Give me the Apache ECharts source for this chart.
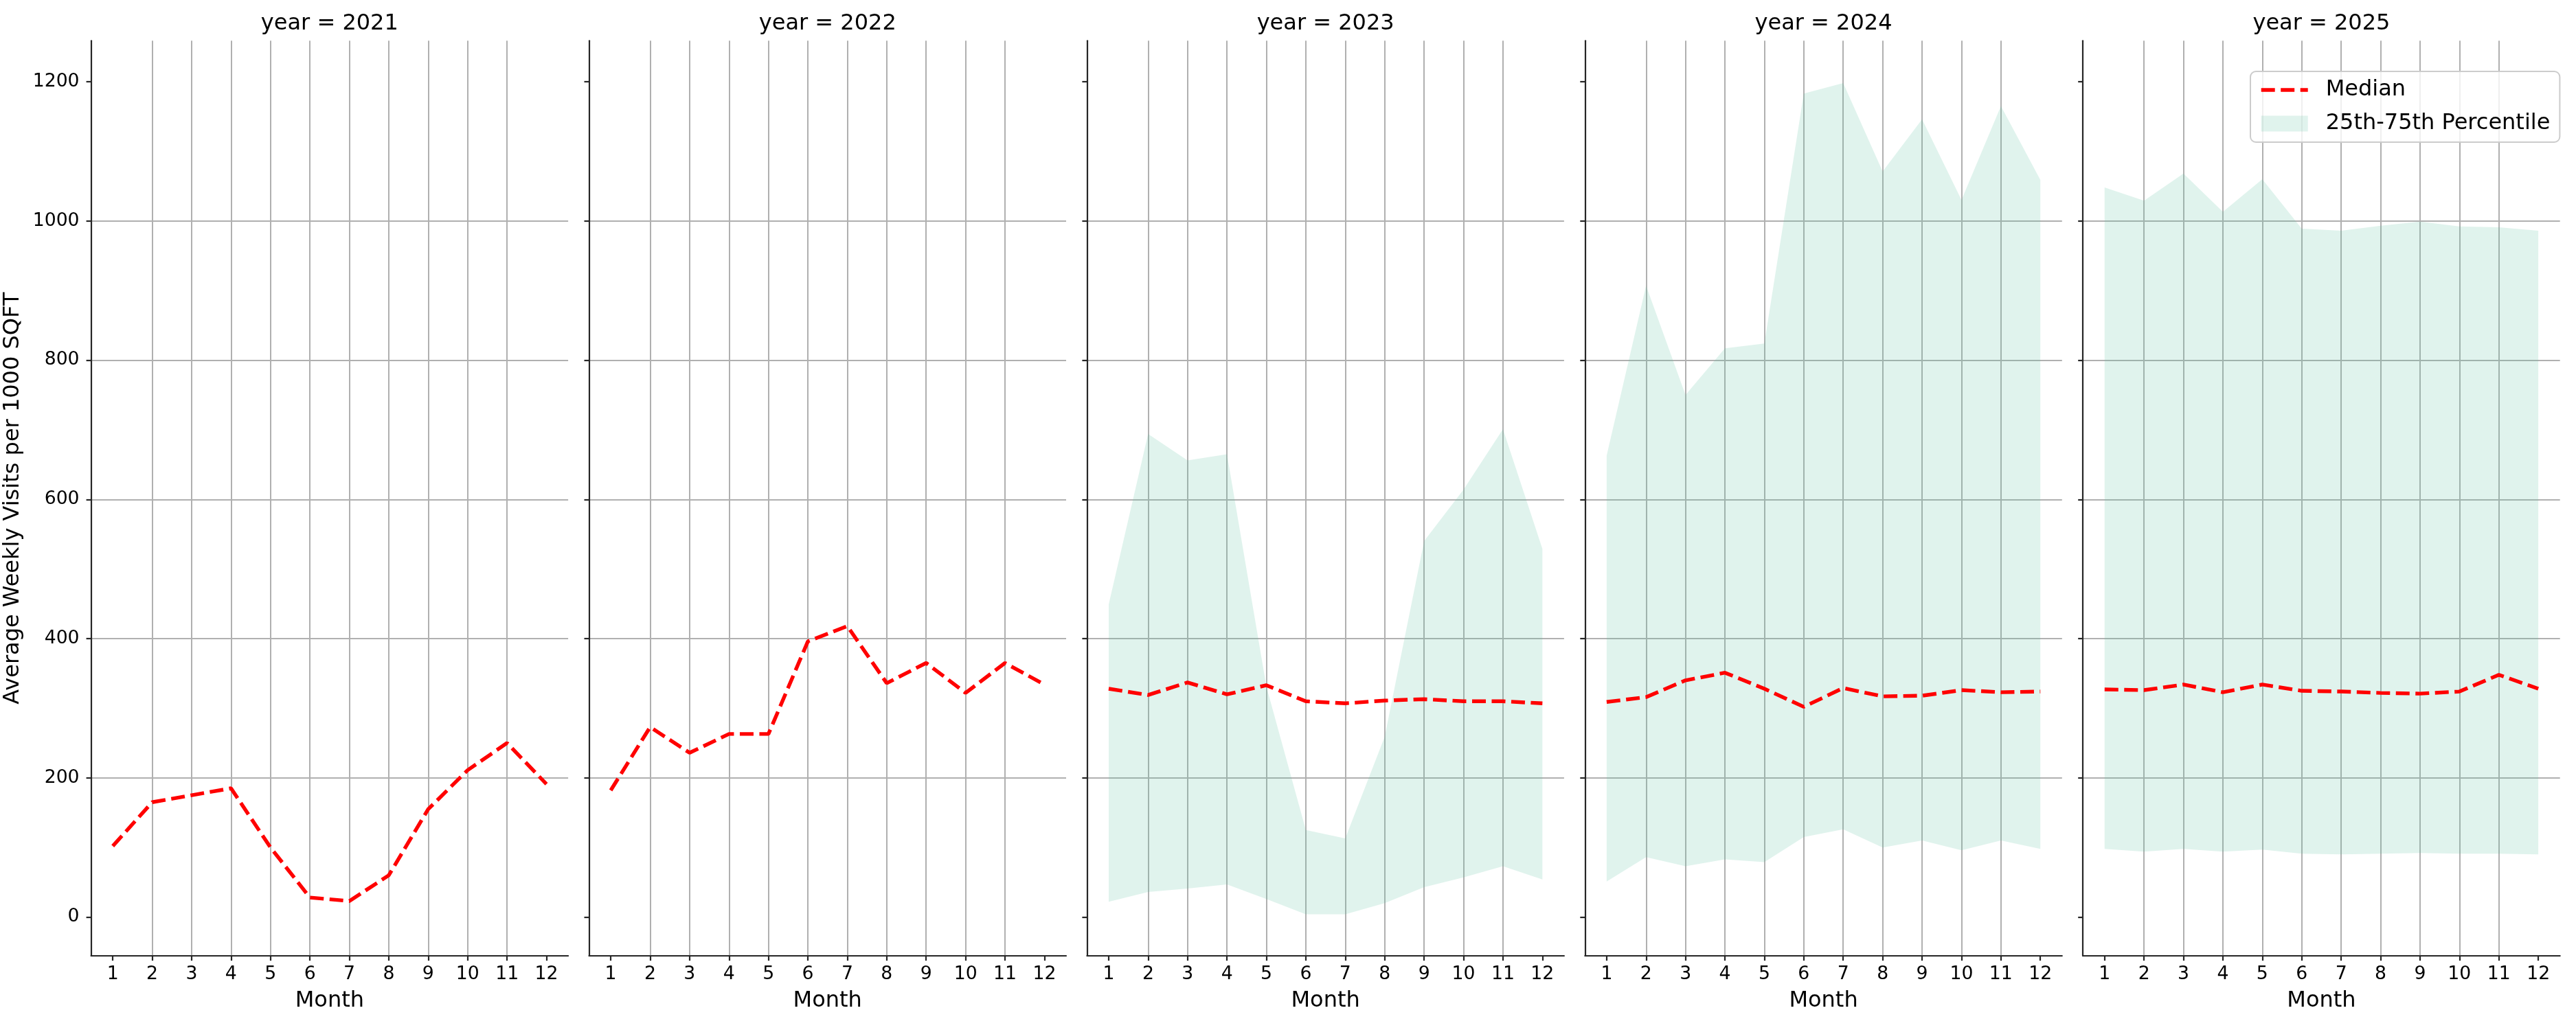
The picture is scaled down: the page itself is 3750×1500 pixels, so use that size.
<!DOCTYPE html>
<html>
<head>
    <meta charset="utf-8">
    <title>Average Weekly Visits per 1000 SQFT</title>
    <script src="https://cdn.jsdelivr.net/npm/echarts@6/dist/echarts.min.js"></script>
    <style>
        html, body { margin: 0; padding: 0; background: #fff; }
        #chart { width: 3750px; height: 1500px; }
    </style>
</head>
<body>
<div id="chart"></div>
<script type="text/javascript">
    // 数据
    var months = [1, 2, 3, 4, 5, 6, 7, 8, 9, 10, 11, 12];
    var years = [2021, 2022, 2023, 2024, 2025];
    var yTicks = [0, 200, 400, 600, 800, 1000, 1200];

    var median2021 = [102, 165, 175, 185, 100, 28, 23, 60, 155, 211, 250, 191];
    var median2022 = [182, 273, 236, 263, 263, 396, 418, 336, 365, 322, 365, 334];
    var median2023 = [328, 319, 337, 320, 333, 310, 307, 311, 313, 310, 310, 307];
    var median2024 = [309, 316, 340, 351, 328, 302, 329, 317, 318, 326, 323, 324];
    var median2025 = [327, 326, 334, 323, 334, 325, 324, 322, 321, 324, 348, 328];

    var p25_2023 = [22, 36, 41, 47, 26, 4, 4, 20, 43, 57, 73, 54];
    var p75_2023 = [449, 694, 656, 665, 331, 125, 113, 259, 540, 614, 701, 529];
    var p25_2024 = [51, 86, 73, 83, 79, 115, 126, 100, 110, 96, 110, 98];
    var p75_2024 = [663, 907, 750, 817, 824, 1183, 1198, 1071, 1146, 1030, 1165, 1059];
    var p25_2025 = [98, 94, 98, 94, 97, 91, 90, 91, 92, 91, 91, 90];
    var p75_2025 = [1048, 1029, 1068, 1013, 1060, 989, 986, 993, 999, 992, 991, 986];

    var medians = [median2021, median2022, median2023, median2024, median2025];
    var p25s = [null, null, p25_2023, p25_2024, p25_2025];
    var p75s = [null, null, p75_2023, p75_2024, p75_2025];

    var FONT = 'DejaVu Sans';
    var SPINE = '#262626';
    var GRID = '#b0b0b0';
    var FILL = 'rgba(102,194,165,0.2)';
    var MEDIAN_LINE = { color: '#ff0000', width: 5.4, type: [20, 8.5], cap: 'butt', opacity: 1 };

    var myChart = echarts.init(document.getElementById('chart'));

    var grids = [], xAxes = [], yAxes = [], titles = [], series = [];

    // 区间带：一次画出整个多边形（上沿正向 + 下沿反向）
    function bandRenderer(lo, hi) {
        return function (params, api) {
            if (params.dataIndex !== 0) return null;
            var pts = [];
            months.forEach(function (m, k) { pts.push(api.coord([m, hi[k]])); });
            for (var k = months.length - 1; k >= 0; k--) { pts.push(api.coord([months[k], lo[k]])); }
            return {
                type: 'polygon',
                shape: { points: pts },
                style: { fill: FILL, stroke: null }
            };
        };
    }

    years.forEach(function (year, i) {
        var left = 132.6 + i * 724.9;
        grids.push({ left: left, top: 59.3, width: 694.5, height: 1332.7 });

        titles.push({
            text: 'year = ' + year,
            left: left + 347.25,
            top: 19,
            padding: 0,
            textAlign: 'center',
            textStyle: { fontFamily: FONT, fontSize: 32, fontWeight: 'normal', color: '#000' }
        });

        xAxes.push({
            type: 'value',
            gridIndex: i,
            min: 0.45,
            max: 12.55,
            minInterval: 1,
            maxInterval: 1,
            name: 'Month',
            nameLocation: 'middle',
            nameGap: 50,
            nameTextStyle: { fontFamily: FONT, fontSize: 32, color: '#000' },
            axisLine: { show: true, onZero: false, lineStyle: { color: SPINE, width: 2.2 } },
            axisTick: { show: true, length: 7, customValues: months, lineStyle: { color: SPINE, width: 2.2 } },
            axisLabel: { customValues: months, margin: 14, fontFamily: FONT, fontSize: 26.7, color: '#000',
                formatter: function (v) { return String(v); } },
            splitLine: { show: true, showMinLine: false, showMaxLine: false, lineStyle: { color: GRID, width: 2 } }
        });

        yAxes.push({
            type: 'value',
            gridIndex: i,
            min: -55.7,
            max: 1258.9,
            minInterval: 200,
            maxInterval: 200,
            name: i === 0 ? 'Average Weekly Visits per 1000 SQFT' : '',
            nameLocation: 'middle',
            nameGap: 98,
            nameTextStyle: { fontFamily: FONT, fontSize: 32, color: '#000' },
            axisLine: { show: true, onZero: false, lineStyle: { color: SPINE, width: 2.2 } },
            axisTick: { show: true, length: 7, customValues: yTicks, lineStyle: { color: SPINE, width: 2.2 } },
            axisLabel: { show: i === 0, customValues: yTicks, margin: 17, fontFamily: FONT, fontSize: 26.7, color: '#000',
                formatter: function (v) { return String(v); } },
            splitLine: { show: true, showMinLine: false, showMaxLine: false, lineStyle: { color: GRID, width: 2 } }
        });

        if (p25s[i]) {
            var lo = p25s[i], hi = p75s[i];
            series.push({
                type: 'custom',
                name: '25th-75th Percentile',
                xAxisIndex: i,
                yAxisIndex: i,
                silent: true,
                itemStyle: { color: FILL },
                renderItem: bandRenderer(lo, hi),
                encode: { x: 0, y: [1, 2] },
                data: months.map(function (m, k) { return [m, lo[k], hi[k]]; }),
                z: 1
            });
        }

        series.push({
            type: 'line',
            name: 'Median',
            xAxisIndex: i,
            yAxisIndex: i,
            symbol: 'none',
            itemStyle: { color: '#ff0000' },
            lineStyle: MEDIAN_LINE,
            data: months.map(function (m, k) { return [m, medians[i][k]]; }),
            z: 3
        });
    });

    myChart.setOption({
        backgroundColor: '#ffffff',
        animation: false,
        title: titles,
        grid: grids,
        xAxis: xAxes,
        yAxis: yAxes,
        legend: {
            data: [
                { name: 'Median', itemStyle: { opacity: 0 }, lineStyle: MEDIAN_LINE },
                { name: '25th-75th Percentile', icon: 'rect', itemStyle: { color: FILL } }
            ],
            orient: 'vertical',
            left: 3276,
            top: 104,
            itemWidth: 68,
            itemHeight: 23,
            itemGap: 17,
            padding: [11, 14, 11, 13],
            selectedMode: false,
            backgroundColor: 'rgba(255,255,255,0.8)',
            borderColor: '#cccccc',
            borderWidth: 2,
            borderRadius: 8,
            textStyle: { fontFamily: FONT, fontSize: 32, color: '#000', padding: [0, 0, 0, 21] }
        },
        series: series
    });
</script>
</body>
</html>
